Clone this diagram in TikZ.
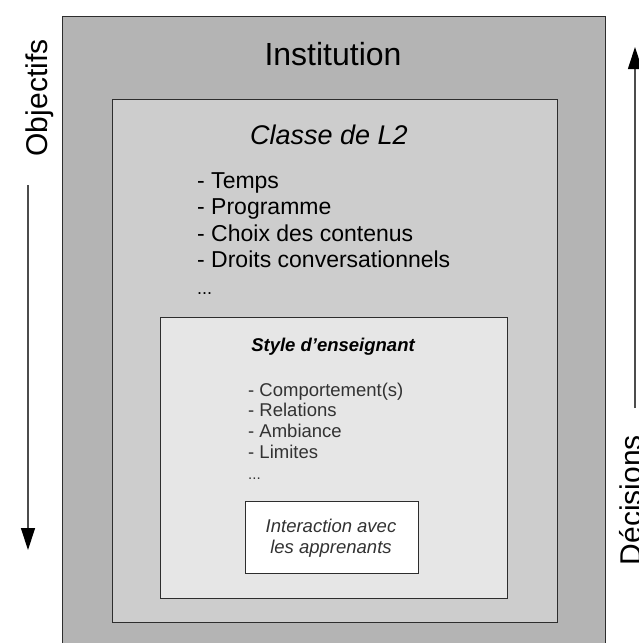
\documentclass[tikz,border=0pt]{standalone}
\usepackage{fontspec}
\setmainfont{Liberation Sans}
\usetikzlibrary{arrows.meta}
\definecolor{gA}{RGB}{180,180,180}
\definecolor{gB}{RGB}{205,205,205}
\definecolor{gC}{RGB}{230,230,230}
\definecolor{edge}{RGB}{45,45,45}
\definecolor{txtgray}{RGB}{50,50,50}
\tikzset{
  panel/.style={draw=edge, line width=1.2pt, anchor=north west, inner sep=0pt},
  sidearrow/.style={draw=black!70, line width=1.2pt, -{Triangle[length=22pt,width=14pt,color=black]}},
  sidelabel/.style={rotate=90, anchor=base, inner sep=0pt, font=\fontsize{30}{36}\selectfont},
  listtxt/.style={anchor=base west, align=left, inner sep=0pt}
}
\begin{document}
\begin{tikzpicture}[x=1pt,y=-1pt]
\useasboundingbox (0,0) rectangle (638,643);
\fill[white] (0,0) rectangle (638,643);
% boxes
\node[panel, fill=gA, minimum width=543pt, minimum height=660pt] (inst) at (62,16) {};
\node[panel, fill=gB, minimum width=445pt, minimum height=523pt] (classe) at (112,99) {};
\node[panel, fill=gC, minimum width=347pt, minimum height=281pt] (style) at (160,317) {};
\node[panel, fill=white, minimum width=173pt, minimum height=72pt] (inter) at (245,501) {};
% texts
\node[anchor=base, inner sep=0pt, font=\fontsize{32}{38}\selectfont] (tinst) at (333,65) {Institution};
\node[anchor=base, inner sep=0pt, font=\fontsize{27}{32}\itshape] (tclasse) at (329,144) {Classe de L2};
\node[listtxt, font=\fontsize{23}{26.5}\selectfont] (lclasse) at (197,294)
  {- Temps\\- Programme\\- Choix des contenus\\- Droits conversationnels\\{\fontsize{18}{20}\selectfont ...}};
\node[anchor=base, inner sep=0pt, font=\fontsize{18.5}{22}\bfseries\itshape] (tstyle) at (333,351) {Style d\symbol{"27}enseignant};
\node[listtxt, text=txtgray, font=\fontsize{18.5}{20.7}\selectfont] (lstyle) at (248,479)
  {- Comportement(s)\\- Relations\\- Ambiance\\- Limites\\{\fontsize{15}{15}\selectfont ...}};
\node[anchor=base, align=center, inner sep=0pt, text=txtgray, font=\fontsize{18.5}{21}\itshape] (tinter) at (331,553)
  {Interaction avec\\les apprenants};
% side arrows
\coordinate (oA) at (28,185);
\coordinate (oB) at (28,550);
\draw[sidearrow] (oA) -- (oB);
\coordinate (dA) at (635,408);
\coordinate (dB) at (635,47);
\draw[sidearrow] (dA) -- (dB);
\node[sidelabel] (obj) at (47,98) {Objectifs};
\node[sidelabel] (dec) at (641,500) {Décisions};
\end{tikzpicture}
\end{document}
